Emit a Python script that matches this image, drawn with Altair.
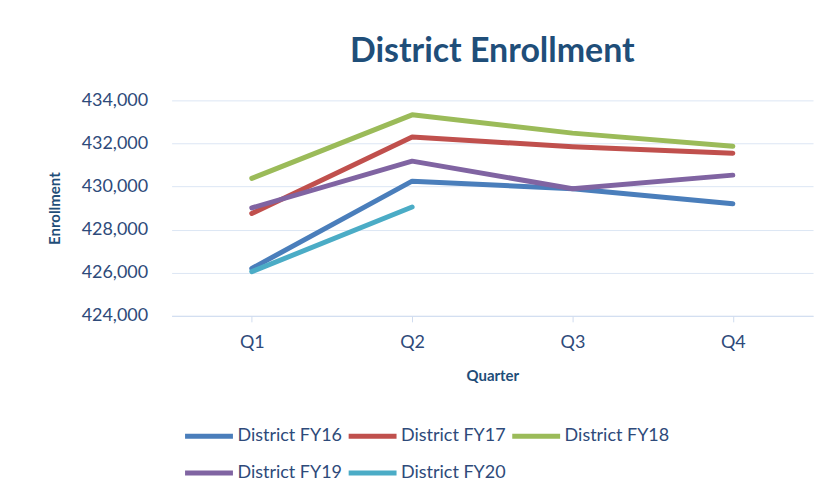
import altair as alt
import pandas as pd

quarters = ["Q1", "Q2", "Q3", "Q4"]
series_names = ["District FY16", "District FY17", "District FY18", "District FY19", "District FY20"]
fy16 = [426200, 430250, 429900, 429200]
fy17 = [428750, 432300, 431850, 431550]
fy18 = [430380, 433330, 432480, 431870]
fy19 = [429010, 431180, 429900, 430530]
fy20 = [426050, 429050, None, None]
colors = ["#4A7EBB", "#C0504D", "#9BBB59", "#8064A2", "#4BACC6"]

rows = []
for name, vals in zip(series_names, [fy16, fy17, fy18, fy19, fy20]):
    for q, v in zip(quarters, vals):
        if v is not None:
            rows.append({"Quarter": q, "Enrollment": v, "Series": name})
df = pd.DataFrame(rows)

font = "Lato"
label_color = "#2E4A7A"

chart = alt.Chart(df).mark_line(strokeWidth=5, strokeCap="round", strokeJoin="round").encode(
    x=alt.X("Quarter:N", sort=quarters, scale=alt.Scale(paddingInner=0, paddingOuter=0),
            axis=alt.Axis(title="Quarter", labelAngle=0, grid=False, domainColor="#D0DCEF",
                          tickColor="#D0DCEF", tickSize=6, bandPosition=0, labelPadding=12,
                          labelFontSize=18, titleFontSize=15, titlePadding=17)),
    y=alt.Y("Enrollment:Q", scale=alt.Scale(domain=[424000, 434000], nice=False, zero=False),
            axis=alt.Axis(title="Enrollment", format=",.0f", values=[424000, 426000, 428000, 430000, 432000, 434000],
                          domain=False, ticks=False, gridColor="#DCE6F4", labelPadding=24,
                          labelFontSize=18, titleFontSize=15, titlePadding=19)),
    color=alt.Color("Series:N", sort=series_names,
                    scale=alt.Scale(domain=series_names, range=colors),
                    legend=alt.Legend(title=None, orient="none", legendX=11, legendY=310,
                                      direction="horizontal", columns=3, symbolType="stroke",
                                      symbolSize=2304, symbolStrokeWidth=5, labelFontSize=18,
                                      labelColor=label_color, labelFont=font, labelOffset=2,
                                      columnPadding=-4, rowPadding=-14, labelLimit=200)),
).properties(
    width=643, height=216,
    title=alt.TitleParams("District Enrollment", fontSize=34, font=font, fontWeight="bold",
                          color="#1F4E79", anchor="middle", offset=22),
    padding={"left": 39, "top": 27, "right": 4, "bottom": 10},
).configure_axis(
    labelFont=font, titleFont=font, labelColor=label_color, titleColor="#1F4E79", titleFontWeight="bold"
).configure_view(stroke=None)

chart.save("out.html", embed_options={"renderer": "svg", "actions": False})
